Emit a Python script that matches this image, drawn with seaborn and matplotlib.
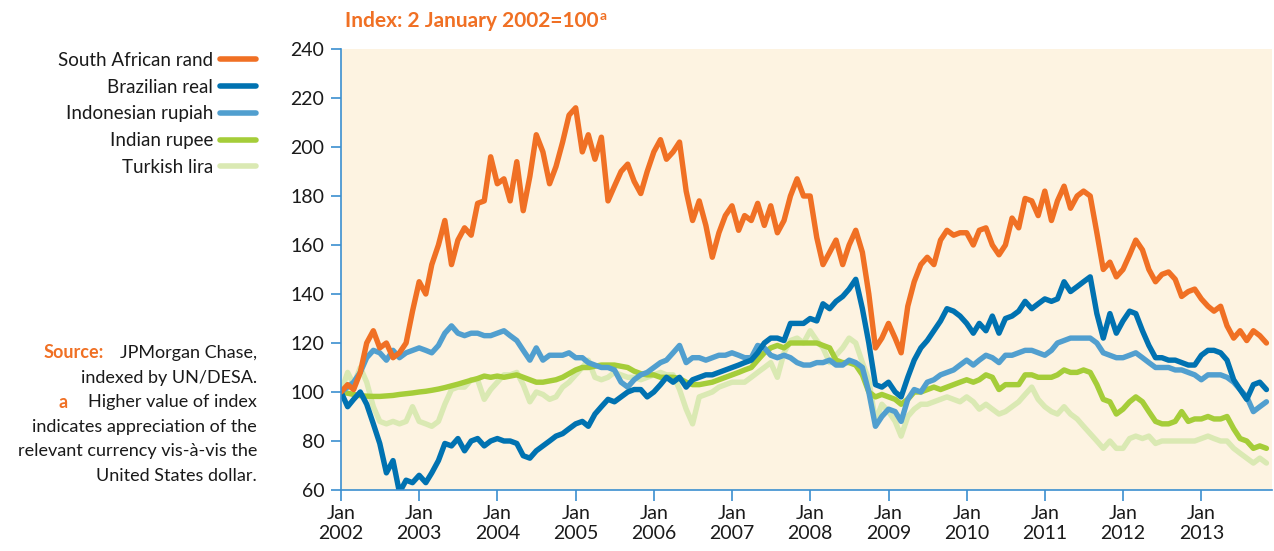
import matplotlib
matplotlib.use("Agg")
import matplotlib.pyplot as plt
import seaborn as sns
import pandas as pd

# monthly readings, Jan 2002 - Nov 2013 (index, 2 Jan 2002 = 100)
dates = pd.date_range("2002-01-01", periods=143, freq="MS")

rand = [100, 103, 101, 108, 120, 125, 118, 120, 114, 116, 120, 133,
        145, 140, 152, 160, 170, 152, 162, 167, 164, 177, 178, 196,
        185, 187, 178, 194, 174, 188, 205, 198, 185, 192, 202, 213,
        216, 198, 205, 195, 204, 178, 184, 190, 193, 186, 181, 190,
        198, 203, 195, 198, 202, 182, 170, 178, 168, 155, 165, 172,
        176, 166, 172, 170, 177, 168, 176, 165, 170, 180, 187, 180,
        180, 163, 152, 157, 162, 152, 160, 166, 157, 140, 118, 122,
        128, 122, 116, 135, 145, 152, 155, 152, 162, 166, 164, 165,
        165, 160, 166, 167, 160, 156, 160, 171, 167, 179, 178, 172,
        182, 170, 178, 184, 175, 180, 182, 180, 165, 150, 153, 147,
        150, 156, 162, 158, 150, 145, 148, 149, 146, 139, 141, 142,
        138, 135, 133, 135, 127, 122, 125, 121, 125, 123, 120]

real = [100, 94, 97, 100, 95, 87, 79, 67, 72, 59, 64, 63,
        66, 63, 67, 72, 79, 78, 81, 76, 80, 81, 78, 80,
        81, 80, 80, 79, 74, 73, 76, 78, 80, 82, 83, 85,
        87, 88, 86, 91, 94, 97, 96, 98, 100, 101, 101, 98,
        100, 103, 106, 104, 106, 102, 105, 106, 107, 107, 108, 109,
        110, 111, 112, 113, 116, 120, 122, 122, 121, 128, 128, 128,
        130, 129, 136, 134, 137, 139, 142, 146, 134, 120, 103, 102,
        104, 100, 98, 106, 113, 118, 121, 125, 129, 134, 133, 131,
        128, 124, 128, 125, 131, 124, 130, 131, 133, 137, 134, 136,
        138, 137, 138, 145, 141, 143, 145, 147, 132, 122, 132, 124,
        129, 133, 132, 125, 119, 114, 114, 113, 113, 112, 111, 111,
        115, 117, 117, 116, 113, 105, 101, 97, 103, 104, 101]

rupiah = [100, 102, 104, 108, 114, 117, 116, 113, 117, 114, 116, 117,
          118, 117, 116, 119, 124, 127, 124, 123, 124, 124, 123, 123,
          124, 125, 123, 121, 117, 113, 118, 113, 115, 115, 115, 116,
          114, 114, 112, 111, 110, 110, 109, 104, 102, 105, 107, 108,
          110, 112, 113, 116, 119, 112, 114, 114, 113, 114, 115, 115,
          116, 115, 114, 114, 119, 118, 115, 114, 115, 114, 112, 111,
          111, 112, 112, 113, 111, 111, 113, 112, 110, 100, 86, 90,
          93, 92, 88, 97, 101, 100, 104, 105, 107, 108, 109, 111,
          113, 111, 113, 115, 114, 112, 115, 115, 116, 117, 117, 116,
          115, 117, 120, 121, 122, 122, 122, 122, 120, 116, 115, 114,
          114, 115, 116, 114, 112, 110, 110, 110, 109, 109, 108, 107,
          105, 107, 107, 107, 106, 104, 101, 98, 92, 94, 96]

rupee = [100, 99.5, 99, 98.5, 98.3, 98.2, 98.2, 98.4, 98.6, 99, 99.3, 99.6,
         100, 100.3, 100.7, 101.2, 101.8, 102.5, 103.2, 104, 104.8, 105.5, 106.5, 106,
         106.5, 106, 106.5, 107, 106, 105, 104, 104, 104.5, 105, 106, 107.5,
         109, 110, 110, 110.5, 111, 111, 111, 110.5, 110, 108.5, 107.5, 107,
         107, 106, 106, 106, 105.5, 104, 103, 103, 103.5, 104, 105, 106,
         107, 108, 109, 110, 113, 116, 118, 119, 118, 120, 120, 120,
         120, 120, 119, 118, 113, 112, 112, 111, 107, 100, 98, 99,
         98, 97, 95, 97, 100, 100, 101, 102, 101, 102, 103, 104,
         105, 104, 105, 107, 106, 101, 103, 103, 103, 107, 107, 106,
         106, 106, 107, 109, 108, 108, 109, 108, 103, 97, 96, 91,
         93, 96, 98, 96, 92, 88, 87, 87, 88, 92, 88, 89,
         89, 90, 89, 89, 90, 85, 81, 80, 77, 78, 77]

lira = [100, 108, 103, 110, 104, 94, 88, 87, 88, 87, 88, 94,
        88, 87, 86, 88, 95, 101, 102, 102, 105, 105, 97, 101,
        104, 107, 107, 108, 103, 96, 100, 99, 97, 98, 102, 104,
        107, 110, 113, 106, 105, 106, 108, 107, 106, 106, 105, 106,
        107, 108, 107, 107, 101, 93, 87, 98, 99, 100, 102, 103,
        104, 104, 104, 106, 108, 110, 112, 106, 116, 121, 122, 120,
        125, 121, 118, 112, 115, 118, 122, 120, 112, 105, 88, 95,
        92, 88, 82, 90, 93, 95, 95, 96, 97, 98, 97, 96,
        98, 96, 93, 95, 93, 91, 92, 94, 96, 99, 102, 97,
        94, 92, 91, 94, 91, 89, 86, 83, 80, 77, 80, 77,
        77, 81, 82, 81, 82, 79, 80, 80, 80, 80, 80, 80,
        81, 82, 81, 80, 80, 77, 75, 73, 71, 73, 71]

currencies = ["South African rand", "Brazilian real", "Indonesian rupiah",
              "Indian rupee", "Turkish lira"]
colors = ["#f07024", "#0072b1", "#519fcf", "#a5cd39", "#dae9b3"]

df = pd.DataFrame({"date": dates, currencies[0]: rand, currencies[1]: real,
                   currencies[2]: rupiah, currencies[3]: rupee, currencies[4]: lira})
long = df.melt(id_vars="date", var_name="currency", value_name="index")

orange = "#f07024"
axis_blue = "#3b8fd0"

sns.set_style("ticks")
plt.rcParams["font.family"] = ["Lato", "DejaVu Sans"]

fig = plt.figure(figsize=(12.74, 5.51), dpi=100)
ax = fig.add_axes([341 / 1274, 1 - 490 / 551, (1272 - 341) / 1274, (490 - 49) / 551])
ax.set_facecolor("#fdf3e1")

sns.lineplot(data=long, x="date", y="index", hue="currency",
             hue_order=currencies[::-1], palette=dict(zip(currencies, colors)),
             linewidth=3.9, ax=ax, legend=True)

handles, labels = ax.get_legend_handles_labels()
ax.get_legend().remove()
order = [labels.index(c) for c in currencies]
leg = fig.legend([handles[i] for i in order], [labels[i] for i in order],
                 loc="upper right", bbox_to_anchor=(256 / 1274, 1 - 52 / 551),
                 frameon=False, markerfirst=False, fontsize=13.5,
                 handlelength=1.9, handletextpad=0.4, labelspacing=0.52,
                 borderaxespad=0, borderpad=0)
for h in leg.get_lines():
    h.set_linewidth(4)
    h.set_solid_capstyle("round")
for t in leg.get_texts():
    t.set_color("#1a1a1a")

ax.set_ylim(60, 240)
ax.set_yticks(range(60, 241, 20))
ax.set_xlim(pd.Timestamp("2002-01-01"), pd.Timestamp("2013-11-27"))
years = pd.date_range("2002-01-01", "2013-01-01", freq="YS")
ax.set_xticks(years)
ax.set_xticklabels([f"Jan\n{d.year}" for d in years])
ax.set_xlabel("")
ax.set_ylabel("")

sns.despine(ax=ax)
for s in ["left", "bottom"]:
    ax.spines[s].set_color(axis_blue)
    ax.spines[s].set_linewidth(1.2)
ax.tick_params(axis="y", length=7, width=1.2, color=axis_blue, labelsize=14,
               pad=5, labelcolor="#1a1a1a")
ax.tick_params(axis="x", length=8, width=1.2, color=axis_blue, labelsize=14,
               pad=3, labelcolor="#1a1a1a")

title = fig.text(345 / 1274, 1 - 21 / 551, "Index: 2 January 2002=100",
                 color=orange, fontsize=15, fontweight="bold", va="center", ha="left")
fig.canvas.draw()
ax.annotate("a", xy=(1, 1), xycoords=title, xytext=(0.5, -6.5), textcoords="offset points",
            color=orange, fontsize=10, fontweight="bold", va="baseline", ha="left")

note_x = 257 / 1274
fig.text(104 / 1274, 1 - 353 / 551, "Source:", color=orange, fontsize=13,
         fontweight="bold", ha="right", va="center")
fig.text(68 / 1274, 1 - 402 / 551, "a", color=orange, fontsize=13,
         fontweight="bold", ha="right", va="center")
notes = ["JPMorgan Chase,", "indexed by UN/DESA.", "Higher value of index",
         "indicates appreciation of the", "relevant currency vis-à-vis the",
         "United States dollar."]
for i, line in enumerate(notes):
    fig.text(note_x, 1 - (353 + 24.6 * i) / 551, line, fontsize=13,
             ha="right", va="center", color="#1a1a1a")

fig.savefig("out.png", dpi=100)
